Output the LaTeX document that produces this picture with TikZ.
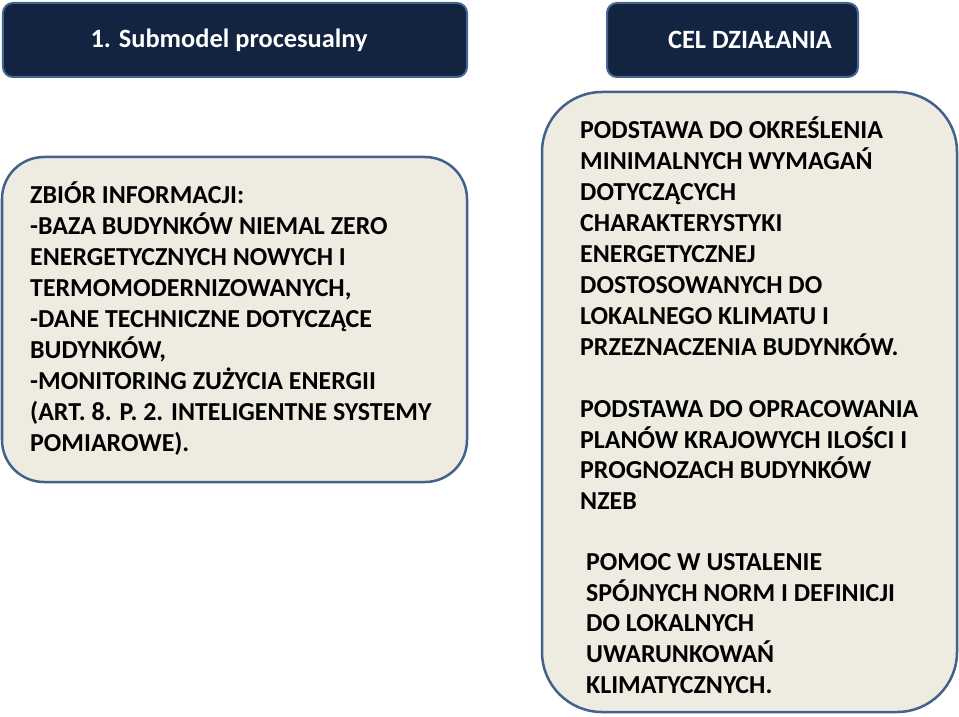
\documentclass[tikz,border=0pt]{standalone}
\usepackage{fontspec}
\setmainfont{Carlito}
\usepackage{tikz}
\definecolor{hdrnavy}{RGB}{18,36,64}
\definecolor{hdredge}{RGB}{72,102,146}
\definecolor{boxtan}{RGB}{238,236,225}
\definecolor{boxedge}{RGB}{66,98,140}
\tikzset{
  hdrbox/.style={fill=hdrnavy, draw=hdredge, line width=2bp, rounded corners=10bp},
  infobox/.style={fill=boxtan, draw=boxedge, line width=2.5bp},
  hdrtext/.style={text=white, font=\bfseries\fontsize{26.5}{31}\selectfont, inner sep=0pt},
  bodytext/.style={text=black, font=\bfseries\fontsize{26}{31}\selectfont, align=left, inner sep=0pt, anchor=north west},
}

\begin{document}
\begin{tikzpicture}[x=1bp,y=-1bp]
\useasboundingbox (0,0) rectangle (959,717);
% headers
\node[hdrbox, minimum width=464bp, minimum height=74bp] (procbox) at (235,40) {};
\node[hdrtext] (proctxt) at (229,40) {1. Submodel procesualny};
\node[hdrbox, minimum width=251bp, minimum height=74bp] (celbox) at (732.5,40) {};
\node[hdrtext] (celtxt) at (750,40) {CEL DZIAŁANIA};
% boxes
\draw[infobox, rounded corners=42bp] (2,157) rectangle (467,482);
\draw[infobox, rounded corners=60bp] (542,92) rectangle (957,712);
% texts
\node[bodytext] (zbior) at (30,182) {ZBIÓR INFORMACJI:\\
-BAZA BUDYNKÓW NIEMAL ZERO\\
ENERGETYCZNYCH NOWYCH I\\
TERMOMODERNIZOWANYCH,\\
-DANE TECHNICZNE DOTYCZĄCE\\
BUDYNKÓW,\\
-MONITORING ZUŻYCIA ENERGII\\
(ART. 8. P. 2. INTELIGENTNE SYSTEMY\\
POMIAROWE).};
\node[bodytext] (wymagan) at (580,117) {PODSTAWA DO OKREŚLENIA\\
MINIMALNYCH WYMAGAŃ\\
DOTYCZĄCYCH\\
CHARAKTERYSTYKI\\
ENERGETYCZNEJ\\
DOSTOSOWANYCH DO\\
LOKALNEGO KLIMATU I\\
PRZEZNACZENIA BUDYNKÓW.};
\node[bodytext] (plany) at (580,400) {PODSTAWA DO OPRACOWANIA\\
PLANÓW KRAJOWYCH ILOŚCI I\\
PROGNOZACH BUDYNKÓW\\
NZEB};
\node[bodytext] (normy) at (586,553) {POMOC W USTALENIE\\
SPÓJNYCH NORM I DEFINICJI\\
DO LOKALNYCH\\
UWARUNKOWAŃ\\
KLIMATYCZNYCH.};
\end{tikzpicture}
\end{document}
